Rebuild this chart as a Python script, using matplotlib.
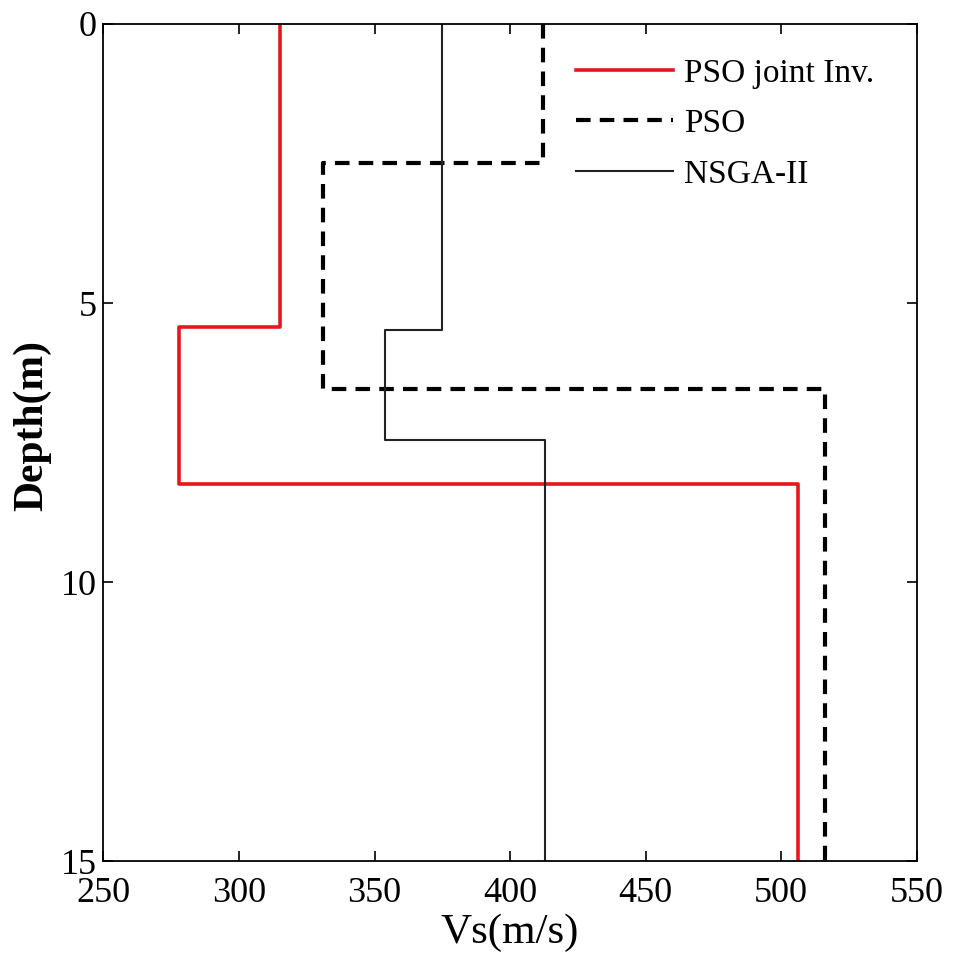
import matplotlib.pyplot as plt
import numpy as np

plt.rcParams['font.family'] = ['Liberation Serif', 'DejaVu Serif']

# layer velocities (m/s) and interface depths (m)
pso_joint_vs = [315, 278, 506]
pso_joint_z = [5.43, 8.24]
pso_vs = [412, 331, 516]
pso_z = [2.49, 6.54]
nsga_vs = [375, 354, 413]
nsga_z = [5.48, 7.46]
zmax = 15


def profile(vs, z):
    # staircase of a layered model
    depth = np.concatenate([[0], np.repeat(z, 2), [zmax]])
    vel = np.repeat(vs, 2)
    return vel, depth


fig = plt.figure(figsize=(9.58, 9.58), dpi=100)
ax = fig.add_axes([0.108, 0.101, 0.849, 0.874])

v, d = profile(pso_joint_vs, pso_joint_z)
ax.plot(v, d, color='#e8161b', lw=2.6, label='PSO joint Inv.')
v, d = profile(pso_vs, pso_z)
ax.plot(v, d, color='black', lw=3, ls=(0, (3.5, 2.2)), label='PSO')
v, d = profile(nsga_vs, nsga_z)
ax.plot(v, d, color='#222222', lw=1.5, label='NSGA-II')

ax.set_xlim(250, 550)
ax.set_ylim(15, 0)
ax.set_xticks([250, 300, 350, 400, 450, 500, 550])
ax.set_yticks([0, 5, 10, 15])
ax.tick_params(direction='in', top=True, right=True, labelsize=26, length=7, width=1.2)
ax.tick_params(axis='x', pad=11)
ax.tick_params(axis='y', pad=5)
for s in ax.spines.values():
    s.set_linewidth(1.3)

ax.set_xlabel('Vs(m/s)', fontsize=31, labelpad=3)
ax.set_ylabel('Depth(m)', fontsize=30, fontweight='bold')
ax.yaxis.set_label_coords(-0.064, 0.52)

ax.legend(loc='upper right', bbox_to_anchor=(0.985, 0.995), frameon=False, fontsize=24,
          handlelength=2.9, handletextpad=0.35, labelspacing=0.6)

fig.savefig('out.png', dpi=100)
